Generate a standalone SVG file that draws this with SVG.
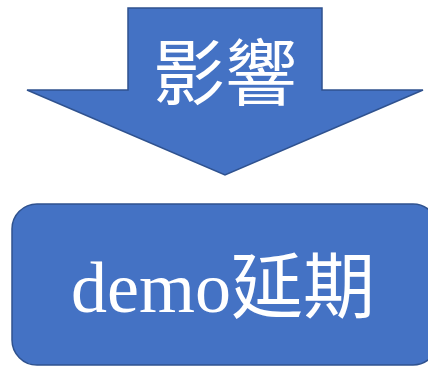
<svg xmlns="http://www.w3.org/2000/svg" width="428" height="366" viewBox="0 0 428 366">
<style>
.shape{fill:#4472C4;stroke:#2F528F;stroke-width:1.5}
.lbl{fill:#FFFFFF;font-family:"Liberation Serif","Noto Sans CJK TC","Noto Sans CJK JP",serif;font-size:72px;text-anchor:middle}
</style>
<rect width="428" height="366" fill="#FFFFFF"/>
<g id="arrow">
<polygon class="shape" points="128,8 322,8 322,90 423,90 225,175 27,90 128,90"/>
<text class="lbl" x="225" y="99">影響</text>
</g>
<g id="box">
<rect class="shape" x="12" y="204" width="426" height="161" rx="25" ry="25"/>
<text class="lbl" x="223" y="312">demo延期</text>
</g>
<g id="connectors"></g>
</svg>
